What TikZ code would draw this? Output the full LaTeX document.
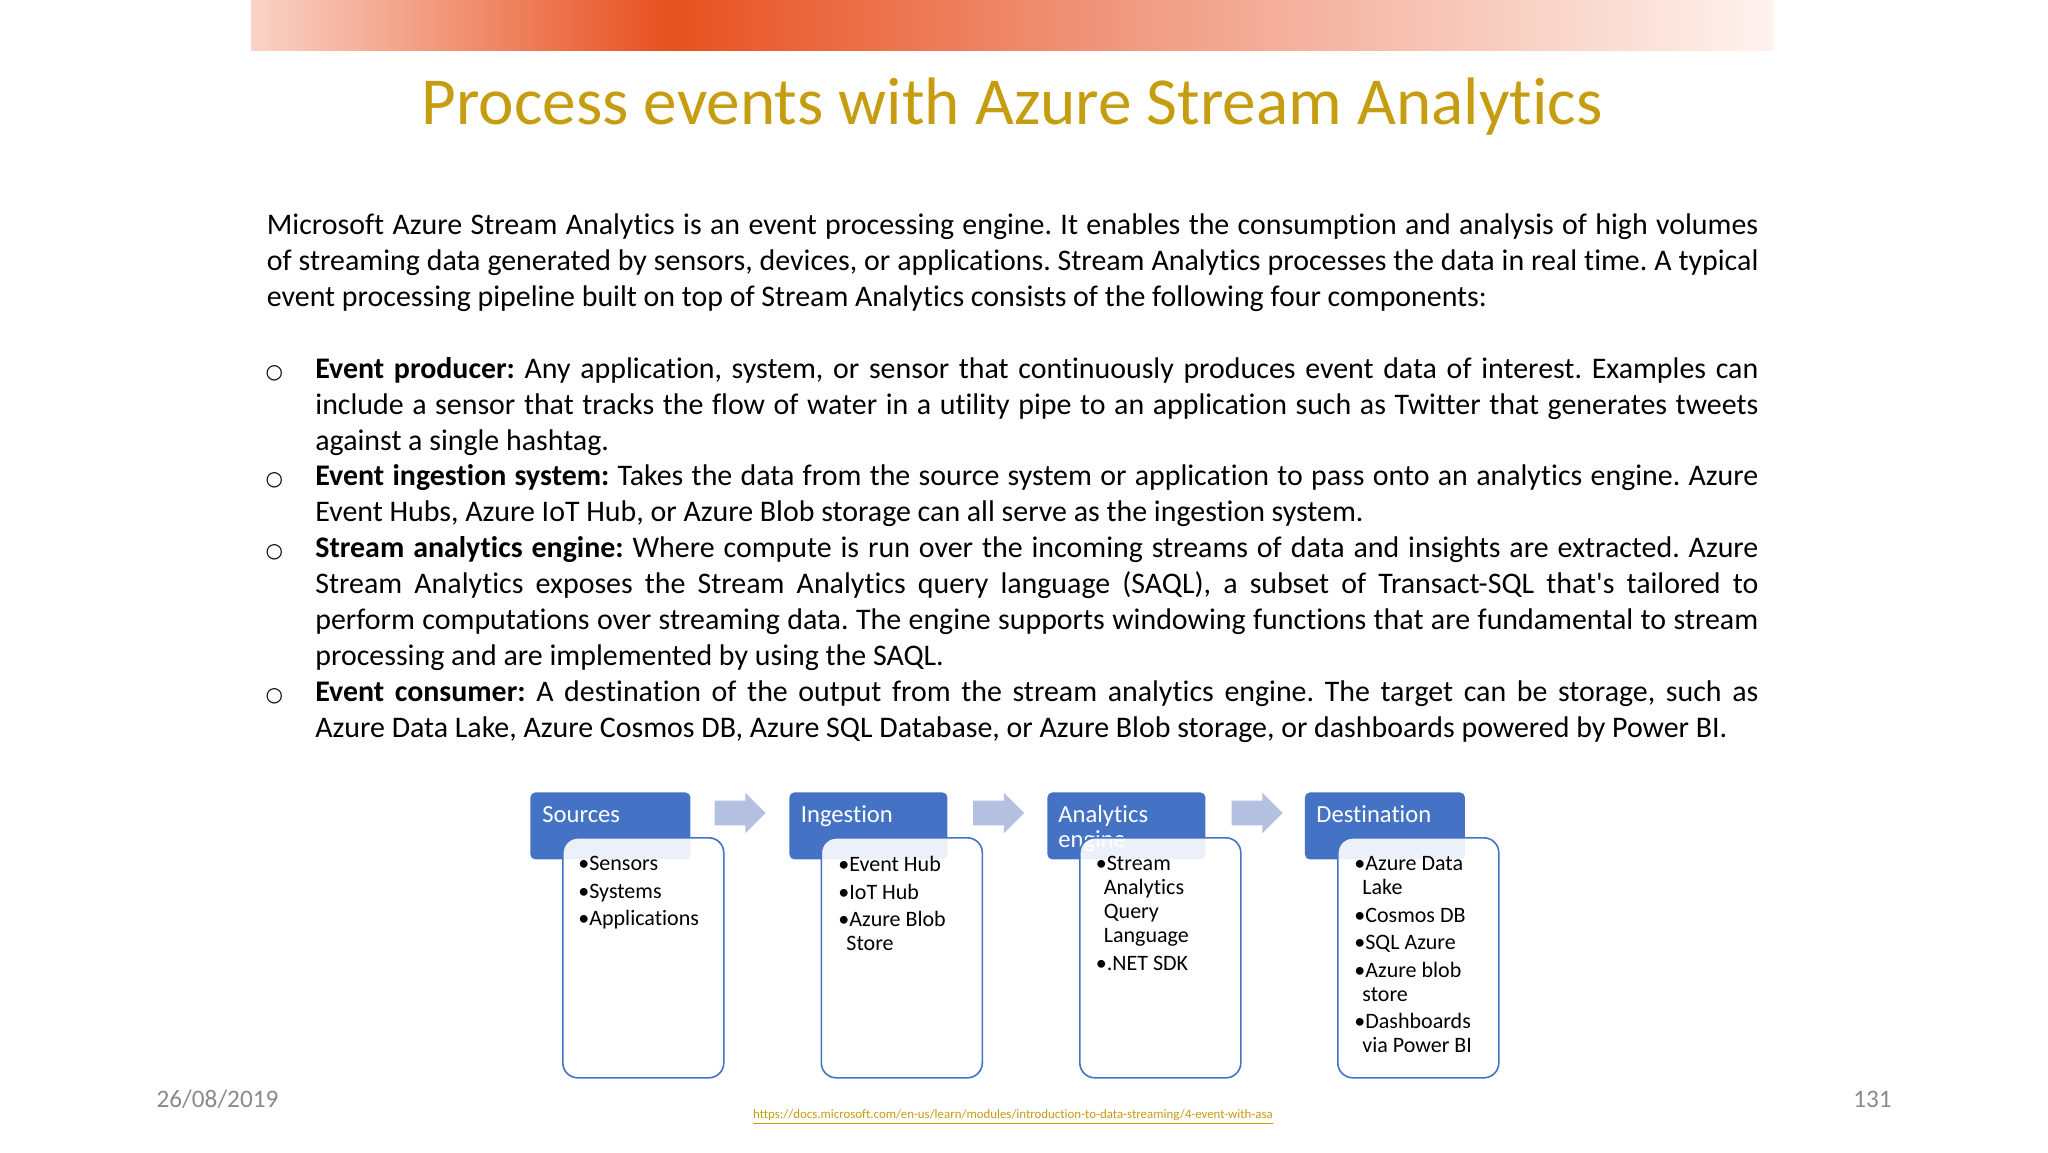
\documentclass[tikz,border=0pt]{standalone}
\usepackage{fontspec}
\setmainfont{Carlito}[Ligatures=NoCommon]
\newfontfamily\markfont{DejaVu Sans}
\usetikzlibrary{positioning, shapes.arrows}

\definecolor{slidegold}{HTML}{C69C10}
\definecolor{barorange}{HTML}{E8501F}
\definecolor{barleft}{HTML}{F9D3C7}
\definecolor{barmid}{HTML}{F19C84}
\definecolor{barright}{HTML}{FEF3EF}
\definecolor{boxblue}{HTML}{4472C4}
\definecolor{arrowblue}{HTML}{B4C0E0}
\definecolor{footgray}{HTML}{8A8A8A}

\newcommand{\itemmark}{\noindent\llap{\markfont\fontsize{10}{18}\selectfont ○\hspace{16.15pt}}}
\newcommand{\listmark}{\hspace*{-0.5pt}\makebox[5.5pt][l]{\textbullet}}
\newcommand{\listwrap}{\hspace*{3.5pt}}

\tikzset{
  bodytext/.style={anchor=north west, inner sep=0pt, align=justify,
    font=\frenchspacing\fontsize{14.95}{18}\selectfont},
  hdrbox/.style={anchor=north west, minimum height=33.5pt, inner sep=0pt,
    fill=boxblue, rounded corners=2.5pt},
  hdrtext/.style={inner sep=0pt, align=left, text=white,
    font=\fontsize{12.3}{12.5}\selectfont},
  listbox/.style={anchor=north west, minimum width=80.5pt, minimum height=120pt, inner sep=0pt,
    draw=boxblue, line width=0.8pt, fill=white, fill opacity=0.9, rounded corners=7.5pt},
  listtext/.style={inner sep=0pt, align=left, text=black,
    font=\fontsize{11}{12}\selectfont},
  flowarrow/.style={single arrow, fill=arrowblue, inner xsep=0pt, inner ysep=6pt, minimum height=25.5pt,
    single arrow head extend=4pt, single arrow head indent=0pt},
  foot/.style={inner sep=0pt, anchor=base, text=footgray, font=\fontsize{12.6}{15}\selectfont},
}

\begin{document}
\begin{tikzpicture}[x=0.5pt, y=-0.5pt]
  \useasboundingbox (0, 0) rectangle (2048, 1152);
  \fill[white] (0, 0) rectangle (2048, 1152);

  % top band
  \shade[left color=barleft, right color=barorange] (251, 0) rectangle (669, 50);
  \shade[left color=barorange, right color=barmid] (668, 0) rectangle (1145, 50);
  \shade[left color=barmid, right color=barright] (1144, 0) rectangle (1774, 50);

  \node[inner sep=0pt, anchor=base, text=slidegold, font=\fontsize{33.6}{36}\selectfont] (title)
    at (1012, 124) {Process events with Azure Stream Analytics};

  % text block
  \node[bodytext, text width=745.75pt] (intro) at (266.5, 213) {%
    Microsoft Azure Stream Analytics is an event processing engine. It enables the consumption and analysis of high volumes\linebreak
    of streaming data generated by sensors, devices, or applications. Stream Analytics processes the data in real time. A typical\linebreak
    event processing pipeline built on top of Stream Analytics consists of the following four components:};
  \node[bodytext, text width=721.5pt] (producer) at (315, 357) {%
    \itemmark\textbf{Event producer:} Any application, system, or sensor that continuously produces event data of interest. Examples can\linebreak
    include a sensor that tracks the flow of water in a utility pipe to an application such as Twitter that generates tweets\linebreak
    against a single hashtag.};
  \node[bodytext, text width=721.5pt] (ingest) at (315, 464.5) {%
    \itemmark\textbf{Event ingestion system:} Takes the data from the source system or application to pass onto an analytics engine. Azure\linebreak
    Event Hubs, Azure IoT Hub, or Azure Blob storage can all serve as the ingestion system.};
  \node[bodytext, text width=721.5pt] (engine) at (315, 536.5) {%
    \itemmark\textbf{Stream analytics engine:} Where compute is run over the incoming streams of data and insights are extracted. Azure\linebreak
    Stream Analytics exposes the Stream Analytics query language (SAQL), a subset of Transact-SQL that\textquotesingle s tailored to\linebreak
    perform computations over streaming data. The engine supports windowing functions that are fundamental to stream\linebreak
    processing and are implemented by using the SAQL.};
  \node[bodytext, text width=721.5pt] (consumer) at (315, 680) {%
    \itemmark\textbf{Event consumer:} A destination of the output from the stream analytics engine. The target can be storage, such as\linebreak
    Azure Data Lake, Azure Cosmos DB, Azure SQL Database, or Azure Blob storage, or dashboards powered by Power BI.};

  % sources
  \node[hdrbox, minimum width=80pt] (srchdr) at (530, 792) {};
  \node[hdrtext, anchor=base west] (srctitle) at (542, 822) {Sources};
  \node[listbox] (srcbox) at (562, 837) {};
  \node[listtext, below right=9.5pt and 8.5pt of srcbox.north west] (srclist) {%
    \listmark Sensors\\[1.75pt]\listmark Systems\\[1.75pt]\listmark Applications};

  % ingestion
  \node[hdrbox, minimum width=79pt] (inghdr) at (789, 792) {};
  \node[hdrtext, anchor=base west] (ingtitle) at (800.5, 822) {Ingestion};
  \node[listbox] (ingbox) at (820.5, 837) {};
  \node[listtext, below right=9.5pt and 9.25pt of ingbox.north west] (inglist) {%
    \listmark Event Hub\\[1.75pt]\listmark IoT Hub\\[1.75pt]\listmark Azure Blob\\\listwrap Store};

  % analytics
  \node[hdrbox, minimum width=79pt] (anahdr) at (1047, 792) {};
  \node[hdrtext, anchor=base west] (anatitle) at (1058, 847) {Analytics\\engine};
  \node[listbox] (anabox) at (1079, 837) {};
  \node[listtext, below right=9.5pt and 8.75pt of anabox.north west] (analist) {%
    \listmark Stream\\\listwrap Analytics\\\listwrap Query\\\listwrap Language\\[1.75pt]\listmark .NET SDK};

  % destination
  \node[hdrbox, minimum width=80pt] (dsthdr) at (1304.5, 792) {};
  \node[hdrtext, anchor=base west] (dsttitle) at (1316, 822) {Destination};
  \node[listbox] (dstbox) at (1337, 837) {};
  \node[listtext, below right=9.5pt and 9pt of dstbox.north west] (dstlist) {%
    \listmark Azure Data\\\listwrap Lake\\[1.75pt]\listmark Cosmos DB\\[1.75pt]\listmark SQL Azure\\[1.75pt]\listmark Azure blob\\\listwrap store\\[1.75pt]\listmark Dashboards\\\listwrap via Power BI};

  % block arrows between the stages
  \node[flowarrow] (arrowa) at (734, 813) {};
  \node[flowarrow] (arrowb) at (992.5, 813) {};
  \node[flowarrow] (arrowc) at (1251, 813) {};

  % footer
  \node[foot] (date) at (217.5, 1107) {26/08/2019};
  \node[foot] (pageno) at (1872.5, 1107) {131};
  \node[inner sep=0pt, anchor=base, text=slidegold, font=\fontsize{6.44}{7}\selectfont] (link)
    at (1013, 1118) {\underline{https://docs.microsoft.com/en-us/learn/modules/introduction-to-data-streaming/4-event-with-asa}};
\end{tikzpicture}
\end{document}
